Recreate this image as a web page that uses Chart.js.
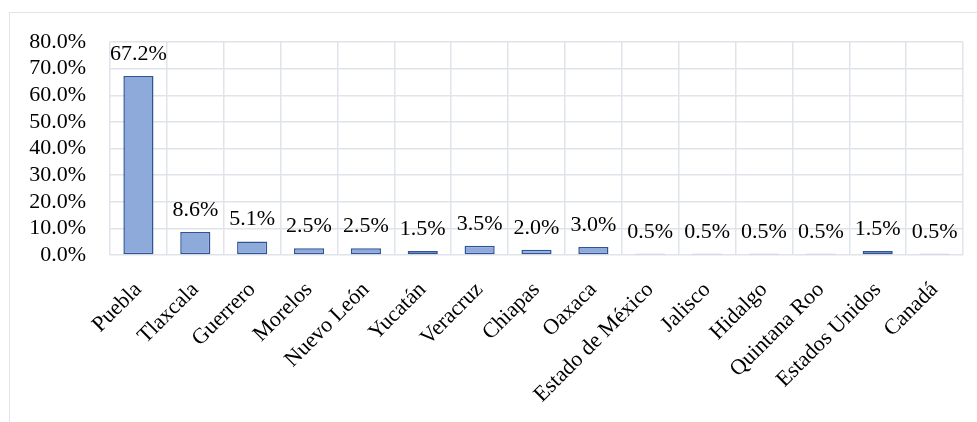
<!DOCTYPE html>
<html>
<head>
<meta charset="utf-8">
<script src="https://cdn.jsdelivr.net/npm/chart.js@4"></script>
<style>
    html, body { margin: 0; padding: 0; background: #ffffff; overflow: hidden; }
    #wrap { position: relative; width: 977px; height: 422px; }
    #frame { position: absolute; left: 9px; top: 12px; width: 1100px; height: 600px; border: 1.5px solid #dfe3ea; }
    #myChart { position: absolute; left: 0; top: 0; }
</style>
</head>
<body>
<div id="wrap">
    <div id="frame"></div>
    <canvas id="myChart" width="977" height="422"></canvas>
</div>
<script>
// categories and values (percent)
const categories = ["Puebla", "Tlaxcala", "Guerrero", "Morelos", "Nuevo León", "Yucatán", "Veracruz", "Chiapas", "Oaxaca", "Estado de México", "Jalisco", "Hidalgo", "Quintana Roo", "Estados Unidos", "Canadá"];
const values = [67.2, 8.6, 5.1, 2.5, 2.5, 1.5, 3.5, 2.0, 3.0, 0.5, 0.5, 0.5, 0.5, 1.5, 0.5];
const yTicks = [0, 10, 20, 30, 40, 50, 60, 70, 80];

const fontFamily = '"Liberation Serif", "Times New Roman", serif';
const fontSize = 22;

// draws the value above each bar
const barLabels =
{
    id: 'barLabels',
    afterDatasetsDraw(chart)
    {
        const ctx = chart.ctx;
        const meta = chart.getDatasetMeta(0);
        ctx.save();
        ctx.font = fontSize + 'px ' + fontFamily;
        ctx.fillStyle = '#000000';
        ctx.textAlign = 'center';
        ctx.textBaseline = 'alphabetic';
        meta.data.forEach((bar, i) => {
            ctx.fillText(values[i].toFixed(1) + '%', bar.x, bar.y - 16);
        });
        ctx.restore();
    }
};

DrawGraph();

function DrawGraph ()
{
    const data =
    {
        labels: categories,
        datasets:
        [
            {
                data: values,
                backgroundColor: '#8eaadb',
                borderColor: '#2f5597',
                borderWidth: 1.5,
                borderSkipped: false,
                barPercentage: 0.53,
                categoryPercentage: 1.0
            }
        ]
    };

    const config =
    {
        type: 'bar',
        data: data,
        options:
        {
            responsive: false,
            animation: false,
            layout: { padding: { left: 0, top: 42, right: 14, bottom: 0 } },
            plugins:
            {
                legend: { display: false },
                tooltip: { enabled: false }
            },
            scales:
            {
                y:
                {
                    min: 0,
                    max: 80,
                    afterBuildTicks: axis => { axis.ticks = yTicks.map(v => ({ value: v })); },
                    afterFit: axis => { axis.width = 110; },
                    grid: { color: '#dfe3ea', lineWidth: 1.5, drawTicks: false },
                    border: { display: false },
                    ticks:
                    {
                        autoSkip: false,
                        padding: 24,
                        color: '#000000',
                        font: { family: fontFamily, size: fontSize },
                        callback: v => v.toFixed(1) + '%'
                    }
                },
                x:
                {
                    afterFit: axis => { axis.height = 167; },
                    grid: { color: '#dfe3ea', lineWidth: 1.5, drawTicks: false },
                    border: { display: false },
                    ticks:
                    {
                        minRotation: 45,
                        maxRotation: 45,
                        padding: 22,
                        autoSkip: false,
                        color: '#000000',
                        font: { family: fontFamily, size: fontSize }
                    }
                }
            }
        },
        plugins: [barLabels]
    };

    const ctx = document.getElementById('myChart').getContext('2d');
    if (ctx) {
        const myChart = new Chart(ctx, config);
    } else {
        console.error('Element with ID "myChart" not found.');
    }
}
</script>
</body>
</html>
